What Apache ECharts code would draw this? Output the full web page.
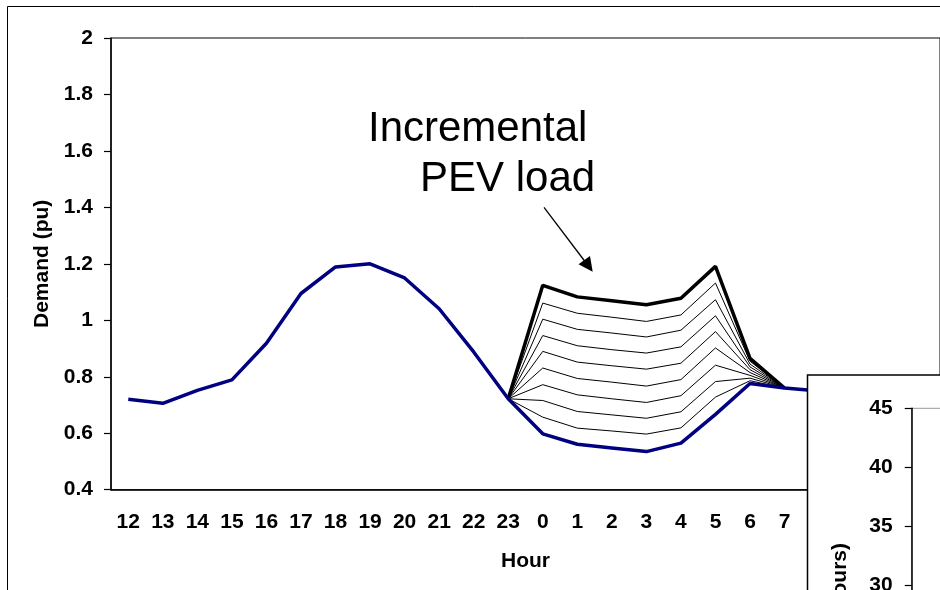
<!DOCTYPE html>
<html>
<head>
<meta charset="utf-8">
<script src="https://cdn.jsdelivr.net/npm/echarts@6/dist/echarts.min.js"></script>
<style>
html, body { margin: 0; padding: 0; background: #fff; }
#demand { width: 940px; height: 590px; }
</style>
</head>
<body>
<div id="demand"></div>
<script>
// hours of the day, starting at noon
var hours = ['12', '13', '14', '15', '16', '17', '18', '19', '20', '21', '22', '23',
	'0', '1', '2', '3', '4', '5', '6', '7', '8', '9', '10', '11'];

// base demand (blue), 12 .. 8
var baseLoad = [0.72, 0.706, 0.752, 0.789, 0.919, 1.095, 1.189, 1.2, 1.15, 1.041, 0.888, 0.722,
	0.598, 0.561, 0.548, 0.535, 0.565, 0.667, 0.776, 0.76, 0.75];

// demand with PEV load added, hours 23 .. 7 (pev9 = thick line)
var pevHours = ['23', '0', '1', '2', '3', '4', '5', '6', '7'];
var pev1 = [0.722, 0.657, 0.618, 0.608, 0.597, 0.619, 0.728, 0.786, 0.76];
var pev2 = [0.722, 0.716, 0.677, 0.665, 0.653, 0.676, 0.783, 0.795, 0.76];
var pev3 = [0.722, 0.772, 0.736, 0.722, 0.709, 0.733, 0.841, 0.805, 0.76];
var pev4 = [0.722, 0.831, 0.794, 0.781, 0.767, 0.790, 0.902, 0.815, 0.76];
var pev5 = [0.722, 0.890, 0.852, 0.839, 0.827, 0.848, 0.960, 0.825, 0.76];
var pev6 = [0.722, 0.946, 0.910, 0.896, 0.884, 0.906, 1.016, 0.835, 0.76];
var pev7 = [0.722, 1.004, 0.968, 0.955, 0.941, 0.965, 1.073, 0.845, 0.76];
var pev8 = [0.722, 1.061, 1.025, 1.011, 0.996, 1.019, 1.132, 0.855, 0.76];
var pev9 = [0.722, 1.124, 1.083, 1.069, 1.055, 1.078, 1.191, 0.865, 0.76];

// y ticks of the chart behind (only its axis shows)
var insetMin = 25, insetMax = 45, insetStep = 5;

var fontName = 'Liberation Sans, Arial, sans-serif';
var fs = 21;

// put pev values on the full hour axis
function onHours(vals) {
	var out = [];
	for (var i = 0; i < hours.length; i++) {
		var k = pevHours.indexOf(hours[i]);
		out.push(k >= 0 ? vals[k] : null);
	}
	return out;
}

var pevSeries = [pev1, pev2, pev3, pev4, pev5, pev6, pev7, pev8].map(function (vals, i) {
	return {
		name: 'pev' + (i + 1),
		type: 'line',
		symbol: 'none',
		lineStyle: { color: '#000', width: 1 },
		data: onHours(vals)
	};
});
pevSeries.push({
	name: 'pev9',
	type: 'line',
	symbol: 'none',
	lineStyle: { color: '#000', width: 3.5 },
	data: onHours(pev9)
});
pevSeries.push({
	name: 'base',
	type: 'line',
	symbol: 'none',
	lineStyle: { color: '#000080', width: 3.5 },
	data: baseLoad
});

var myChart = echarts.init(document.getElementById('demand'));
option = {
	animation: false,
	textStyle: { fontFamily: fontName },
	grid: [{
		left: 111,
		top: 38,
		width: 829,
		height: 451.7,
		outerBoundsMode: 'none',
		show: true,
		borderColor: '#000',
		borderWidth: 1
	}, {
		left: 911.7,
		top: 408.3,
		width: 300,
		height: 235.6,
		outerBoundsMode: 'none',
		show: true,
		borderColor: '#999',
		borderWidth: 1,
		z: 60
	}],
	xAxis: [{
		type: 'category',
		gridIndex: 0,
		data: hours,
		name: 'Hour',
		nameLocation: 'middle',
		nameGap: 61,
		nameTextStyle: { fontSize: fs, fontWeight: 'bold', color: '#000' },
		axisLine: { lineStyle: { color: '#000', width: 1.5 } },
		axisTick: { length: 5, lineStyle: { color: '#000', width: 1.2 } },
		axisLabel: { fontSize: fs, fontWeight: 'bold', color: '#000', margin: 22, interval: 0 }
	}, {
		type: 'value',
		gridIndex: 1,
		show: false
	}],
	yAxis: [{
		type: 'value',
		gridIndex: 0,
		min: 0.4,
		max: 2,
		interval: 0.2,
		name: 'Demand (pu)',
		nameLocation: 'middle',
		nameGap: 58,
		nameTextStyle: { fontSize: fs, fontWeight: 'bold', color: '#000' },
		axisLine: { show: true, lineStyle: { color: '#000', width: 1.5 } },
		axisTick: { show: true, length: 7, lineStyle: { color: '#000', width: 1.2 } },
		axisLabel: { fontSize: fs, fontWeight: 'bold', color: '#000', margin: 18 },
		splitLine: { show: false }
	}, {
		type: 'value',
		gridIndex: 1,
		min: insetMin,
		max: insetMax,
		interval: insetStep,
		z: 60,
		axisLine: { show: true, lineStyle: { color: '#000', width: 1.5 } },
		axisTick: { show: true, length: 7, lineStyle: { color: '#000', width: 1.2 } },
		axisLabel: { fontSize: fs, fontWeight: 'bold', color: '#000', margin: 19 },
		splitLine: { show: false }
	}],
	graphic: [
		// chart frame
		{
			type: 'rect', silent: true, z: 1,
			shape: { x: 7.5, y: 6.5, width: 1400, height: 1400 },
			style: { fill: 'none', stroke: '#000', lineWidth: 1 }
		},
		{
			type: 'text', silent: true, x: 368, y: 129.4,
			style: { text: 'Incremental', font: '42px ' + fontName, fill: '#000', textVerticalAlign: 'middle' }
		},
		{
			type: 'text', silent: true, x: 420, y: 179.7,
			style: { text: 'PEV load', font: '42px ' + fontName, fill: '#000', textVerticalAlign: 'middle' }
		},
		{
			type: 'line', silent: true,
			shape: { x1: 544, y1: 207.3, x2: 585, y2: 261.5 },
			style: { stroke: '#000', lineWidth: 1.3 }
		},
		{
			type: 'polygon', silent: true,
			shape: { points: [[592.7, 271.7], [578.5, 264.3], [590, 256]] },
			style: { fill: '#000' }
		},
		// box of the next chart lying over this one
		{
			type: 'rect', silent: true, z: 50,
			shape: { x: 807.5, y: 375, width: 400, height: 400 },
			style: { fill: '#fff', stroke: '#000', lineWidth: 1.5 }
		},
		{
			type: 'text', silent: true, z: 61, x: 840, y: 543, rotation: Math.PI / 2,
			style: { text: 'Time (hours)', font: 'bold ' + fs + 'px ' + fontName, fill: '#000',
				textAlign: 'right', textVerticalAlign: 'middle' }
		}
	],
	series: pevSeries
};
myChart.setOption(option);
</script>
</body>
</html>
